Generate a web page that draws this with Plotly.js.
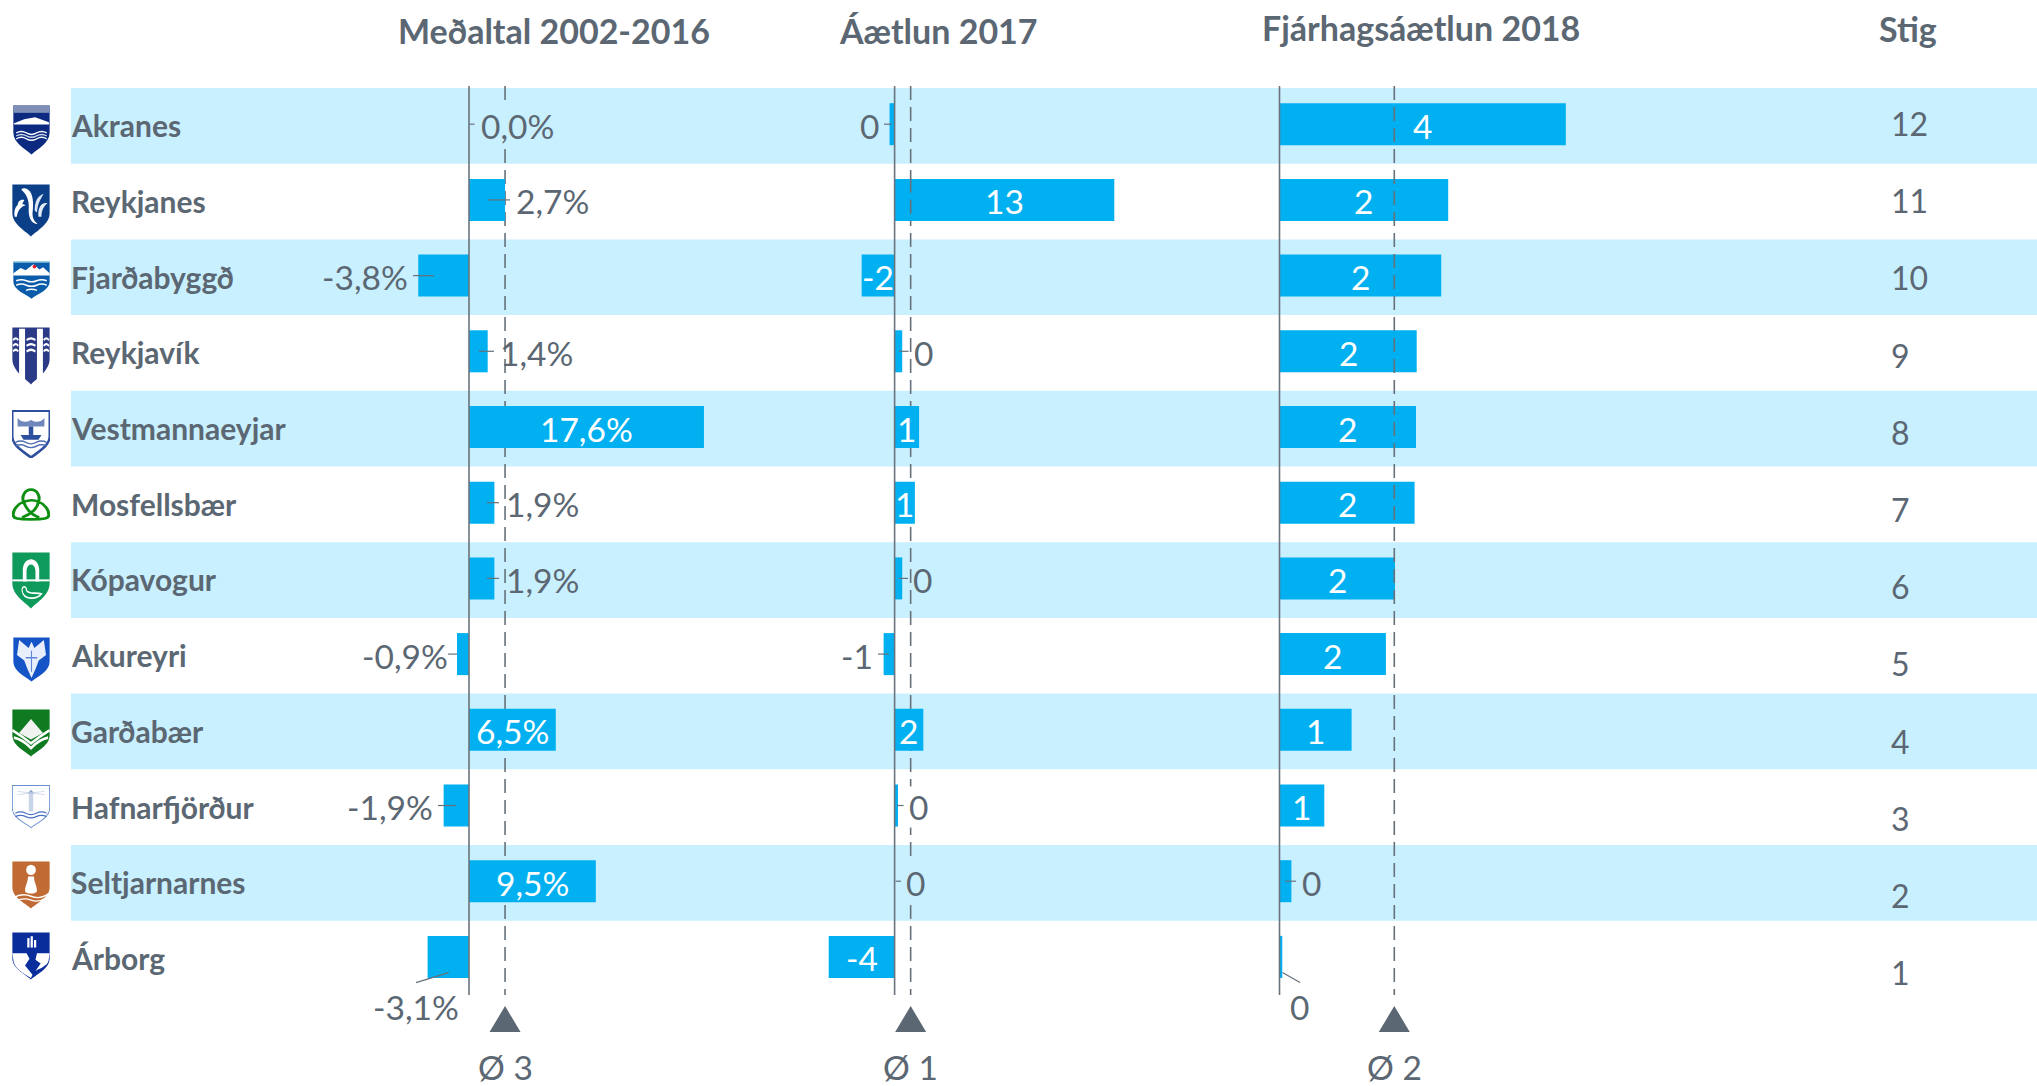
<!DOCTYPE html>
<html><head><meta charset="utf-8">
<script src="https://cdn.plot.ly/plotly-3.0.1.min.js"></script>
<style>html,body{margin:0;padding:0;background:#fff}#c{width:2037px;height:1086px}</style>
</head><body><div id="c"></div>
<script>
// ---- data ----
const municipalities = ["Akranes","Reykjanes","Fjarðabyggð","Reykjavík","Vestmannaeyjar","Mosfellsbær","Kópavogur","Akureyri","Garðabær","Hafnarfjörður","Seltjarnarnes","Árborg"];
const avg2002_2016 = [0.0,2.7,-3.8,1.4,17.6,1.9,1.9,-0.9,6.5,-1.9,9.5,-3.1];
const plan2017 = [-0.3,13.0,-1.95,0.45,1.45,1.2,0.45,-0.65,1.7,0.2,0.0,-3.9];
const budget2018 = [4.09,2.41,2.31,1.96,1.95,1.93,1.65,1.52,1.03,0.64,0.17,0.04];
const points = [12,11,10,9,8,7,6,5,4,3,2,1];
const panelTitles = ["Meðaltal 2002-2016","Áætlun 2017","Fjárhagsáætlun 2018","Stig"];
const means = [2.7,0.95,1.64];

// ---- styling ----
const TXT = "#5b6772", BAR = "#00b0f0", BAND = "#c9f0ff", W = 2037, H = 1086;
const FONT = "Lato, 'Open Sans', sans-serif";
const rowTop = 124.2, rowStep = 75.7, LABEL = 33.5;
const pY = p => 1 - p / H;                      // page pixel -> paper fraction
const idx = municipalities.map((_, i) => i);
// panel pixel frames: domain in px, zero position in px, px per unit
const frames = [
  {a:"x",  lo:300,  hi:800,  zero:469,    unit:13.35},
  {a:"x2", lo:820,  hi:1240, zero:894.6,  unit:16.9},
  {a:"x3", lo:1260, hi:1700, zero:1279.5, unit:70}
];
const series = [avg2002_2016, plan2017, budget2018];
const fmt = [
  v => v.toFixed(1).replace(".", ",") + "%",
  v => String(Math.round(v) + 0),
  v => String(Math.round(v) + 0)
];
// outside labels: row -> [label dx from zero, leader x0, leader x1, label dy, leader dy0, leader dy1]
const outside = [
 {0:[48,0,5.5],1:[83,19,41],2:[-104,-56,-35],3:[67.5,10,25],5:[73,18,30],6:[73,18,30],7:[-64,-21,-12],9:[-79,-31,-13],11:[-53,-53,-20.3,49.7,25.7,15.7]},
 {0:[-25.4,-10.6,-3],3:[28.4,4.4,14],6:[27.7,4.4,13.4],7:[-37.6,-16.6,-5.6],9:[23.4,2.4,9],10:[20.4,1,6.4]},
 {10:[31.5,5.5,16.5],11:[20,3,20.5,49.7,15.7,25.7]}
];
// labels that mask the dashed mean line behind them: [panel, row]
const masked = ["0-0","1-3","1-6","1-9","1-10"];

const traces = [], shapes = [], annotations = [], images = [];

// alternating bands
idx.forEach(i => { if (i % 2 === 0) shapes.push({type:"rect", xref:"paper", yref:"y", layer:"below",
  x0:71/W, x1:1, y0:i-0.478, y1:i+0.522, fillcolor:BAND, line:{width:0}}); });

frames.forEach((f, k) => {
  const vals = series[k], out = outside[k];
  traces.push({type:"bar", orientation:"h", x:vals, y:idx, xaxis:f.a, yaxis:"y", width:0.555,
    marker:{color:BAR, line:{width:0}}, hoverinfo:"skip", cliponaxis:false});
  vals.forEach((v,i) => {
    const o = out[i];
    if (!o) { annotations.push({xref:f.a, yref:"y", x:v/2, y:i+1.5/rowStep, text:fmt[k](v), showarrow:false,
      xanchor:"center", yanchor:"middle", font:{family:FONT,size:LABEL,color:"#fff"}}); return; }
    const a = {xref:f.a, yref:"y", x:o[0]/f.unit, y:i+(o[3]===undefined?1.5:o[3])/rowStep, text:fmt[k](v),
      showarrow:false, xanchor:"center", yanchor:"middle", font:{family:FONT,size:LABEL,color:TXT}, borderpad:0};
    if (masked.includes(k+"-"+i)) a.bgcolor = i%2===0 ? BAND : "#fff";
    annotations.push(a);
    shapes.push({type:"line", xref:f.a, yref:"y", layer:"above", x0:o[1]/f.unit, x1:o[2]/f.unit,
      y0:i+(o[4]||0)/rowStep, y1:i+(o[5]||0)/rowStep, line:{color:"#66717b", width:1.2}});
  });
  // zero line
  shapes.push({type:"line", xref:f.a, yref:"paper", layer:"above", x0:0, x1:0, y0:pY(86), y1:pY(995), line:{color:"#69747e", width:1.6}});
  // mean dashed line: under the bars for panels 1-2, over for panel 3
  shapes.push({type:"line", xref:f.a, yref:"y", layer:k===2?"above":"between", x0:means[k], x1:means[k],
    y0:(86-rowTop)/rowStep, y1:(995-rowTop)/rowStep, line:{color:"#66717b", width:1.6, dash:"14px,7px"}});
  if (k===1) shapes.push({type:"line", xref:f.a, yref:"y", layer:"above", x0:means[k], x1:means[k],
    y0:0.72, y1:1.28, line:{color:"#66717b", width:1.6, dash:"14px,7px"}});
  // triangle marker
  shapes.push({type:"path", xref:f.a, yref:"paper", xsizemode:"pixel", ysizemode:"pixel", xanchor:means[k], yanchor:pY(1032),
    path:"M-15.5,0 L15.5,0 L0,26 Z", fillcolor:"#5b6772", line:{width:0}, layer:"above"});
  annotations.push({xref:f.a, yref:"paper", x:means[k], y:pY(1067), text:"Ø "+Math.round(means[k]), showarrow:false,
    xanchor:"center", yanchor:"middle", font:{family:FONT,size:LABEL,color:TXT}});
});

// headers
[[554,31],[938,30],[1421,27.5],[1908,28]].forEach((p,k) => annotations.push({xref:"paper", yref:"paper", x:p[0]/W, y:pY(p[1]),
  text:"<b>"+panelTitles[k]+"</b>", showarrow:false, xanchor:"center", yanchor:"middle", font:{family:FONT,size:34,color:TXT}}));
// names
municipalities.forEach((m,i) => annotations.push({xref:"paper", yref:"y", x:69/W, y:i+1/rowStep, text:"<b>"+m+"</b>",
  showarrow:false, xanchor:"left", yanchor:"middle", font:{family:FONT,size:30,color:TXT}}));
// points column
points.forEach((s,i) => annotations.push({xref:"paper", yref:"paper", x:1889/W, y:pY(123.4+77.2*i), text:String(s),
  showarrow:false, xanchor:"left", yanchor:"middle", font:{family:FONT,size:32,color:TXT}}));

// crests
const SH = "M0 0H100V55C100 76 68 88 50 100C32 88 0 76 0 55Z";
const wave = (y,c,w) => `<path d="M8 ${y}Q22 ${y-6} 36 ${y}T64 ${y}T92 ${y}" fill="none" stroke="${c}" stroke-width="${w}"/>`;
const crests = [
 [13,50,105,155,`<path d="${SH}" fill="#0b2a80"/><rect width="100" height="15" fill="#7f90b8"/><path d="M2 36L30 28L60 24L98 34V39H2Z" fill="#fff"/>${wave(56,"#fff",3)}${wave(62,"#cfd8ea",3)}${wave(68,"#fff",3)}`],
 [12,50,184,237,`<path d="${SH}" fill="#0b4089"/><path d="M24 10C30 4 42 8 48 14C58 26 56 44 54 56C54 66 60 72 68 76C50 76 42 62 44 44C45 30 38 18 24 10Z" fill="#fff"/><path d="M6 62C2 44 16 32 36 40C24 42 14 50 12 62Z" fill="#fff"/><path d="M14 42C14 32 22 28 32 30L26 38Z" fill="#fff"/><path d="M70 62C68 46 76 34 94 36C84 42 78 50 78 62Z" fill="#e6edf7"/><path d="M60 50C60 32 68 22 84 18C74 30 68 38 66 54Z" fill="#dbe5f3"/>`],
 [13,50,261,299,`<path d="${SH}" fill="#0b5bab"/><rect width="100" height="3" fill="#cfe"/><path d="M0 32L20 18L34 24L55 8L72 22L82 16L100 32V38H0Z" fill="#fff"/><circle cx="58" cy="14" r="5" fill="#e8202a"/>${wave(52,"#fff",4)}${wave(64,"#fff",4)}<path d="M35 78Q50 72 65 78" fill="none" stroke="#fff" stroke-width="4"/>`],
 [12,50,327,385,`<path d="${SH}" fill="#2b3a86"/><path d="M18 2H34V98L18 82Z" fill="#fff"/><path d="M66 2H82V82L66 98Z" fill="#fff"/>${[22,32,42].map(y=>`<path d="M2 ${y}Q9 ${y-6} 16 ${y}M38 ${y}Q50 ${y-6} 62 ${y}M84 ${y}Q91 ${y-6} 98 ${y}" fill="none" stroke="#fff" stroke-width="4"/>`).join("")}`],
 [12,50,410,458,`<path d="${SH}" fill="#fff" stroke="#2d4f9e" stroke-width="6"/><path d="M14 16Q30 30 50 20Q70 30 86 16V34H14Z" fill="#6f87bb"/><path d="M22 52H78L70 62H30Z" fill="#2d4f9e"/>${wave(68,"#4e6cb0",3)}${wave(76,"#4e6cb0",3)}<rect x="44" y="34" width="12" height="18" fill="#2d4f9e"/>`],
 [12,50,488,521,`<path d="M50 4C66 4 76 24 70 42C86 48 98 66 98 82C98 94 86 96 50 96C14 96 2 94 2 82C2 66 14 48 30 42C24 24 34 4 50 4ZM30 42C36 60 46 80 72 90M70 42C60 36 44 36 30 42M70 42C68 60 52 80 26 90" fill="none" stroke="#0e8f12" stroke-width="8"/>`],
 [12,50,552,609,`<path d="${SH}" fill="#0e9a5b"/><path d="M28 52V30C30 6 70 6 72 30V52H62V32C60 18 40 18 38 32V52Z" fill="#fff"/><rect y="48" width="100" height="3.5" fill="#fff"/><path d="M26 68C26 58 38 60 38 68C48 76 62 70 78 74C66 84 30 86 26 68Z" fill="none" stroke="#fff" stroke-width="3"/>`],
 [13,50,637,682,`<path d="${SH}" fill="#1554c6"/><path d="M50 10L58 24L84 6L90 40L70 52L62 70L50 92L38 70L30 52L10 40L16 6L42 24Z" fill="#e8eefb"/><path d="M50 30V78M34 46H66" stroke="#5f86d8" stroke-width="3"/>`],
 [12,50,709,757,`<path d="${SH}" fill="#0f7a1f"/><path d="M50 20L82 50L50 64L18 50Z" fill="#f0f3f0"/><path d="M0 44Q25 56 50 72Q75 56 100 44M4 60Q28 64 50 82Q72 64 96 60" fill="none" stroke="#fff" stroke-width="6"/>`],
 [12,50,785,828,`<path d="${SH}" fill="#fff" stroke="#6a8fd0" stroke-width="2.5"/><rect x="44" y="20" width="12" height="42" fill="#c8d4e8"/><path d="M40 20L50 10L60 20Z" fill="#8ea3c8"/><path d="M14 14L86 22M14 22L86 14" stroke="#c8d4e8" stroke-width="2"/>${wave(66,"#4a72c0",3)}${wave(74,"#4a72c0",3)}`],
 [12,50,861,909,`<path d="${SH}" fill="#c06a34"/><ellipse cx="50" cy="18" rx="13" ry="11" fill="#fff"/><path d="M42 32H58C58 44 66 52 66 62C66 70 34 70 34 62C34 52 42 44 42 32Z" fill="#fff"/><path d="M2 78Q25 66 50 74T98 68M10 84Q30 76 50 82T90 78" fill="none" stroke="#fff" stroke-width="3"/>`],
 [12,50,932,980,`<path d="${SH}" fill="#0a2d9c"/><rect x="40" y="12" width="6" height="20" fill="#fff"/><rect x="49" y="8" width="6" height="24" fill="#fff"/><rect x="58" y="16" width="6" height="16" fill="#fff"/><path d="M0 44H38L46 56L34 70L54 90L50 97C30 88 2 76 2 55Z" fill="#fff"/><path d="M100 44H66L62 58L76 66L62 82C80 74 98 70 98 55Z" fill="#fff"/>`]
];
crests.forEach(c => {
  const svg = `<svg xmlns="http://www.w3.org/2000/svg" width="${(c[1]-c[0])*2}" height="${(c[3]-c[2])*2}" viewBox="-1 -1 102 102" preserveAspectRatio="none">${c[4]}</svg>`;
  images.push({source:"data:image/svg+xml;charset=utf-8,"+encodeURIComponent(svg), xref:"paper", yref:"paper",
    x:c[0]/W, y:pY(c[2]), sizex:(c[1]-c[0])/W, sizey:(c[3]-c[2])/H, sizing:"stretch", xanchor:"left", yanchor:"top", layer:"above"});
});

const axis = f => ({domain:[f.lo/W, f.hi/W], range:[(f.lo-f.zero)/f.unit, (f.hi-f.zero)/f.unit],
  visible:false, showgrid:false, zeroline:false, anchor:"y", fixedrange:true});
const layout = {width:W, height:H, margin:{l:0,r:0,t:0,b:0,pad:0}, paper_bgcolor:"#fff", plot_bgcolor:"rgba(0,0,0,0)",
  showlegend:false, barmode:"overlay", font:{family:FONT,color:TXT},
  xaxis:axis(frames[0]), xaxis2:axis(frames[1]), xaxis3:axis(frames[2]),
  yaxis:{domain:[0,1], range:[(H-rowTop)/rowStep, -rowTop/rowStep], visible:false, showgrid:false, zeroline:false, fixedrange:true},
  shapes, annotations, images};
Plotly.newPlot("c", traces, layout, {displayModeBar:false, staticPlot:true});
</script></body></html>
